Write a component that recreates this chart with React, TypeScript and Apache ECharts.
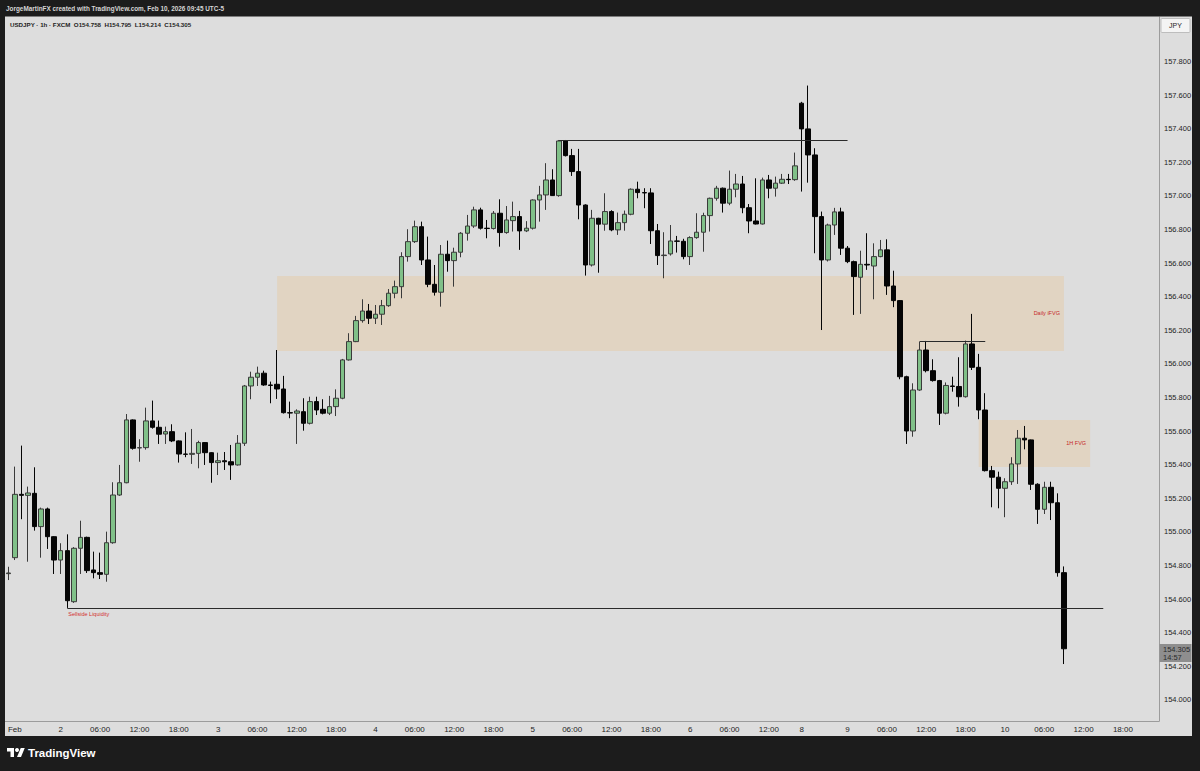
import React, { useEffect, useRef } from "react";
import * as echarts from "echarts";

// ---- OHLC values (USDJPY 1h, FXCM) ----
const opens = [
  154.752, 154.847, 155.224, 155.218, 155.230, 155.032, 155.137, 154.972, 154.833, 154.889,
  154.585, 154.903, 154.968, 154.774, 154.758, 154.748, 154.936, 155.220, 155.293, 155.667,
  155.500, 155.502, 155.661, 155.623, 155.583, 155.597, 155.542, 155.464, 155.462, 155.468,
  155.532, 155.472, 155.413, 155.424, 155.418, 155.399, 155.528, 155.869, 155.921, 155.945,
  155.875, 155.879, 155.851, 155.710, 155.707, 155.716, 155.647, 155.776, 155.730, 155.707,
  155.746, 155.796, 156.024, 156.133, 156.258, 156.315, 156.272, 156.296, 156.347, 156.421,
  156.460, 156.639, 156.728, 156.817, 156.619, 156.474, 156.427, 156.653, 156.615, 156.665,
  156.778, 156.821, 156.917, 156.808, 156.806, 156.897, 156.782, 156.853, 156.877, 156.792,
  156.808, 156.976, 157.006, 157.095, 157.002, 157.327, 157.240, 157.145, 156.946, 156.589,
  156.867, 156.832, 156.907, 156.798, 156.841, 156.891, 157.040, 157.020, 157.018, 156.793,
  156.645, 156.655, 156.732, 156.730, 156.639, 156.752, 156.784, 156.883, 156.986, 157.046,
  156.957, 157.040, 157.071, 156.930, 156.851, 156.833, 157.095, 157.046, 157.076, 157.099,
  157.097, 157.552, 157.399, 157.244, 156.877, 156.619, 156.827, 156.905, 156.689, 156.609,
  156.516, 156.593, 156.583, 156.639, 156.679, 156.464, 156.377, 155.924, 155.601, 155.845,
  156.083, 155.960, 155.901, 155.707, 155.869, 155.866, 155.805, 156.119, 155.980, 155.726,
  155.365, 155.326, 155.260, 155.299, 155.405, 155.558, 155.548, 155.284, 155.135, 155.266,
  155.174, 154.758,
];
const highs = [
  154.793, 155.389, 155.514, 155.270, 155.385, 155.145, 155.145, 154.975, 154.933, 154.986,
  154.910, 155.067, 154.972, 154.883, 154.877, 155.002, 155.296, 155.399, 155.702, 155.670,
  155.552, 155.740, 155.782, 155.663, 155.627, 155.641, 155.545, 155.593, 155.613, 155.543,
  155.535, 155.475, 155.472, 155.476, 155.518, 155.577, 155.875, 155.954, 155.984, 155.960,
  155.895, 156.083, 155.929, 155.776, 155.730, 155.796, 155.805, 155.805, 155.790, 155.810,
  155.849, 156.030, 156.183, 156.286, 156.385, 156.357, 156.351, 156.381, 156.446, 156.496,
  156.665, 156.802, 156.853, 156.847, 156.758, 156.589, 156.708, 156.734, 156.692, 156.785,
  156.887, 156.936, 156.930, 156.857, 156.910, 156.980, 156.940, 156.966, 156.911, 156.850,
  156.980, 157.060, 157.195, 157.159, 157.333, 157.333, 157.280, 157.280, 156.950, 156.917,
  156.870, 157.016, 156.915, 156.901, 156.913, 157.045, 157.085, 157.046, 157.046, 156.833,
  156.784, 156.827, 156.762, 156.745, 156.760, 156.897, 156.900, 156.990, 157.060, 157.050,
  157.151, 157.131, 157.119, 156.952, 157.105, 157.109, 157.125, 157.115, 157.131, 157.131,
  157.258, 157.560, 157.657, 157.284, 156.907, 156.835, 156.929, 156.930, 156.702, 156.615,
  156.674, 156.778, 156.718, 156.738, 156.742, 156.555, 156.380, 155.930, 155.885, 156.133,
  156.137, 156.028, 155.905, 155.890, 155.924, 156.040, 156.139, 156.298, 156.060, 155.826,
  155.393, 155.359, 155.320, 155.445, 155.607, 155.631, 155.550, 155.290, 155.299, 155.299,
  155.230, 154.795,
];
const lows = [
  154.714, 154.833, 155.076, 154.823, 155.008, 154.847, 154.899, 154.750, 154.750, 154.548,
  154.578, 154.750, 154.756, 154.724, 154.720, 154.704, 154.930, 155.215, 155.290, 155.490,
  155.418, 155.490, 155.615, 155.524, 155.524, 155.535, 155.413, 155.445, 155.405, 155.379,
  155.399, 155.293, 155.339, 155.369, 155.310, 155.395, 155.512, 155.790, 155.869, 155.870,
  155.766, 155.792, 155.705, 155.677, 155.524, 155.603, 155.640, 155.696, 155.700, 155.696,
  155.690, 155.790, 156.020, 156.130, 156.246, 156.238, 156.238, 156.232, 156.340, 156.391,
  156.391, 156.609, 156.720, 156.589, 156.457, 156.407, 156.341, 156.549, 156.460, 156.635,
  156.734, 156.810, 156.800, 156.748, 156.800, 156.698, 156.775, 156.788, 156.679, 156.785,
  156.800, 156.847, 156.917, 157.000, 156.995, 157.235, 157.119, 156.861, 156.526, 156.580,
  156.543, 156.793, 156.790, 156.768, 156.793, 156.885, 156.986, 156.927, 156.714, 156.589,
  156.510, 156.645, 156.663, 156.623, 156.589, 156.745, 156.668, 156.788, 156.972, 156.901,
  156.945, 156.992, 156.897, 156.778, 156.830, 156.830, 156.986, 156.996, 157.071, 157.071,
  157.090, 157.026, 157.079, 156.659, 156.202, 156.610, 156.768, 156.649, 156.600, 156.292,
  156.298, 156.560, 156.385, 156.635, 156.411, 156.338, 155.909, 155.524, 155.567, 155.840,
  155.950, 155.895, 155.637, 155.700, 155.835, 155.746, 155.800, 155.964, 155.671, 155.360,
  155.147, 155.141, 155.088, 155.280, 155.286, 155.492, 155.250, 155.048, 155.107, 155.071,
  154.734, 154.214,
];
const closes = [
  154.756, 155.224, 155.218, 155.232, 155.032, 155.137, 154.972, 154.833, 154.889, 154.591,
  154.903, 154.968, 154.770, 154.758, 154.748, 154.936, 155.220, 155.293, 155.667, 155.498,
  155.502, 155.661, 155.623, 155.582, 155.597, 155.542, 155.464, 155.462, 155.468, 155.532,
  155.472, 155.413, 155.424, 155.418, 155.399, 155.528, 155.869, 155.921, 155.945, 155.875,
  155.872, 155.851, 155.710, 155.708, 155.720, 155.647, 155.776, 155.726, 155.707, 155.746,
  155.796, 156.024, 156.133, 156.258, 156.315, 156.272, 156.296, 156.347, 156.421, 156.460,
  156.639, 156.728, 156.817, 156.619, 156.474, 156.427, 156.653, 156.615, 156.665, 156.778,
  156.821, 156.917, 156.808, 156.806, 156.897, 156.782, 156.857, 156.877, 156.792, 156.808,
  156.976, 157.006, 157.095, 157.002, 157.327, 157.240, 157.145, 156.946, 156.589, 156.867,
  156.832, 156.907, 156.798, 156.841, 156.891, 157.040, 157.020, 157.018, 156.793, 156.645,
  156.648, 156.732, 156.730, 156.639, 156.752, 156.784, 156.883, 156.986, 157.046, 156.957,
  157.040, 157.071, 156.930, 156.851, 156.833, 157.095, 157.046, 157.076, 157.099, 157.097,
  157.179, 157.399, 157.244, 156.877, 156.619, 156.827, 156.905, 156.689, 156.609, 156.520,
  156.593, 156.589, 156.639, 156.679, 156.464, 156.377, 155.924, 155.601, 155.845, 156.083,
  155.960, 155.901, 155.707, 155.872, 155.866, 155.805, 156.119, 155.980, 155.726, 155.365,
  155.326, 155.260, 155.299, 155.405, 155.558, 155.548, 155.284, 155.135, 155.266, 155.174,
  154.758, 154.305,
];

// ---- time axis: hourly sessions (UTC-5), weekend skipped ----
const sessions = [
  { start: [2026, 0, 30, 16], bars: 1 },
  { start: [2026, 1, 1, 17], bars: 120 },
  { start: [2026, 1, 8, 17], bars: 55 },
];
const pad = (n: number) => (n < 10 ? "0" + n : "" + n);
const categories: string[] = [];
sessions.forEach((s) => {
  const t0 = Date.UTC(s.start[0], s.start[1], s.start[2], s.start[3]);
  for (let k = 0; k < s.bars; k++) {
    const d = new Date(t0 + k * 3600000);
    categories.push(`${pad(d.getUTCMonth() + 1)}-${pad(d.getUTCDate())} ${pad(d.getUTCHours())}:00`);
  }
});

const timeTickIndex = [1, 8, 14, 20, 26, 32, 38, 44, 50, 56, 62, 68, 74, 80, 86, 92, 98, 104, 110, 116, 121, 128, 134, 140, 146, 152, 158, 164, 170];
const timeTickLabels = ["Feb", "2", "06:00", "12:00", "18:00", "3", "06:00", "12:00", "18:00", "4", "06:00", "12:00", "18:00", "5", "06:00", "12:00", "18:00", "6", "06:00", "12:00", "8", "9", "06:00", "12:00", "18:00", "10", "06:00", "12:00", "18:00"];

const priceTicks = [154.0, 154.2, 154.4, 154.6, 154.8, 155.0, 155.2, 155.4, 155.6, 155.8, 156.0, 156.2, 156.4, 156.6, 156.8, 157.0, 157.2, 157.4, 157.6, 157.8];

// ---- drawings (in data coordinates: bar index, price) ----
const zones = [
  { name: "Daily iFVG", from: 41, to: 161, top: 156.524, bottom: 156.077 },
  { name: "1H FVG", from: 148, to: 165, top: 155.667, bottom: 155.387 },
];
const levels = [
  { name: "", from: 84, to: 128, price: 157.333 },
  { name: "", from: 139, to: 149, price: 156.135 },
  { name: "Sellside Liquidity", from: 9, to: 167, price: 154.548 },
];

const lastPrice = 154.305;
const countdown = "14:57";

const FONT = "Liberation Sans, Arial, sans-serif";

echarts.graphic.registerShape(
  "tvlogo",
  echarts.graphic.extendPath("M14 22H7V11H0V4h14v18zM28 22h-8l7.5-18h8L28 22z", {})
);

export default function App() {
  const ref = useRef<HTMLDivElement>(null);
  useEffect(() => {
    if (!ref.current) return;
    const chart = echarts.init(ref.current, undefined, { renderer: "svg" });
    const dark = "#1c1c1c";
    const option: any = {
      animation: false,
      backgroundColor: "#dddddd",
      textStyle: { fontFamily: FONT },
      grid: { left: 5, right: 41, top: 17, bottom: 50, containLabel: false, outerBoundsMode: "none" },
      xAxis: {
        type: "category",
        data: categories,
        boundaryGap: true,
        axisLine: { show: true, lineStyle: { color: "#9c9c9c", width: 1 } },
        axisTick: { show: false },
        splitLine: { show: false },
        axisLabel: {
          interval: (idx: number) => timeTickIndex.indexOf(idx) >= 0,
          formatter: (_v: string, idx: number) => {
            const k = timeTickIndex.indexOf(idx);
            return k >= 0 ? timeTickLabels[k] : "";
          },
          color: "#1e1e1e",
          fontSize: 8,
          fontFamily: FONT,
          margin: 4,
          hideOverlap: false,
        },
      },
      yAxis: {
        type: "value",
        position: "right",
        min: 153.875,
        max: 158.065,
        axisLine: { show: true, lineStyle: { color: "#9c9c9c", width: 1 } },
        axisTick: { show: false },
        splitLine: { show: false },
        axisLabel: {
          customValues: priceTicks,
          formatter: (v: number) => v.toFixed(3),
          color: "#1e1e1e",
          fontSize: 7.5,
          fontFamily: FONT,
          margin: 5,
        },
      },
      series: [
        {
          type: "candlestick",
          data: opens.map((o, i) => [o, closes[i], lows[i], highs[i]]),
          barWidth: 5,
          itemStyle: {
            color: "#80c088",
            color0: "#050505",
            borderColor: "#3a3a3a",
            borderColor0: "#050505",
            borderWidth: 1,
          },
          emphasis: { disabled: true },
          markArea: {
            silent: true,
            itemStyle: { color: "rgba(255,152,0,0.12)" },
            label: {
              show: true,
              position: "insideRight",
              color: "#c62828",
              fontSize: 5.5,
              fontFamily: FONT,
              distance: 4,
            },
            data: zones.map((z) => [
              { name: z.name, xAxis: z.from, yAxis: z.top },
              { xAxis: z.to, yAxis: z.bottom },
            ]),
          },
          markLine: {
            silent: true,
            symbol: ["none", "none"],
            lineStyle: { color: "#2a2a2a", width: 1, type: "solid" },
            label: { show: false },
            data: levels.map((l) => [
              {
                coord: [l.from, l.price],
                label: l.name
                  ? {
                      show: true,
                      position: "insideStartBottom",
                      formatter: l.name,
                      color: "#d32f2f",
                      fontSize: 5.5,
                      fontFamily: FONT,
                      distance: [1, 3],
                    }
                  : { show: false },
              },
              { coord: [l.to, l.price] },
            ]),
          },
        },
      ],
      graphic: [
        // dark frame
        { type: "rect", shape: { x: 0, y: 0, width: 1200, height: 16.5 }, style: { fill: dark }, z: 100 },
        { type: "rect", shape: { x: 0, y: 736, width: 1200, height: 35 }, style: { fill: dark }, z: 100 },
        { type: "rect", shape: { x: 0, y: 0, width: 5, height: 771 }, style: { fill: dark }, z: 100 },
        { type: "rect", shape: { x: 1192, y: 0, width: 8, height: 771 }, style: { fill: dark }, z: 100 },
        {
          type: "text",
          x: 6,
          y: 8.5,
          style: {
            text: "JorgeMartinFX created with TradingView.com, Feb 10, 2026 09:45 UTC-5",
            fill: "#d6d6d6",
            font: `bold 6.4px ${FONT}`,
            verticalAlign: "middle",
          },
          z: 101,
        },
        {
          type: "text",
          x: 10,
          y: 24,
          style: {
            text: "USDJPY · 1h · FXCM  O154.758  H154.795  L154.214  C154.305",
            fill: "#1e1e1e",
            font: `bold 6.2px ${FONT}`,
            verticalAlign: "middle",
          },
          z: 101,
        },
        // JPY currency box
        {
          type: "rect",
          shape: { x: 1161, y: 18.5, width: 29, height: 14, r: 1 },
          style: { fill: "#f4f4f4", stroke: "#bdbdbd", lineWidth: 1 },
          z: 101,
        },
        {
          type: "text",
          x: 1175.5,
          y: 25.5,
          style: { text: "JPY", fill: "#1e1e1e", font: `7px ${FONT}`, align: "center", verticalAlign: "middle" },
          z: 102,
        },
        // last price label
        {
          type: "rect",
          shape: { x: 1159.5, y: 644, width: 32, height: 18 },
          style: { fill: "#8e8e8e" },
          z: 101,
        },
        {
          type: "text",
          x: 1163,
          y: 649.5,
          style: { text: lastPrice.toFixed(3), fill: "#2a2a2a", font: `7.5px ${FONT}`, verticalAlign: "middle" },
          z: 102,
        },
        {
          type: "text",
          x: 1163,
          y: 657.5,
          style: { text: countdown, fill: "#2a2a2a", font: `7.5px ${FONT}`, verticalAlign: "middle" },
          z: 102,
        },
        // TradingView logo
        { type: "tvlogo", x: 7, y: 746, scaleX: 0.5, scaleY: 0.5, style: { fill: "#ffffff" }, z: 101 },
        { type: "circle", shape: { cx: 17, cy: 750, r: 2 }, style: { fill: "#ffffff" }, z: 101 },
        {
          type: "text",
          x: 28,
          y: 753,
          style: { text: "TradingView", fill: "#ffffff", font: `bold 11.5px ${FONT}`, verticalAlign: "middle" },
          z: 101,
        },
      ],
    };
    chart.setOption(option);
    return () => chart.dispose();
  }, []);
  return (
    <div
      ref={ref}
      style={{ position: "fixed", left: 0, top: 0, width: 1200, height: 771 }}
    />
  );
}
